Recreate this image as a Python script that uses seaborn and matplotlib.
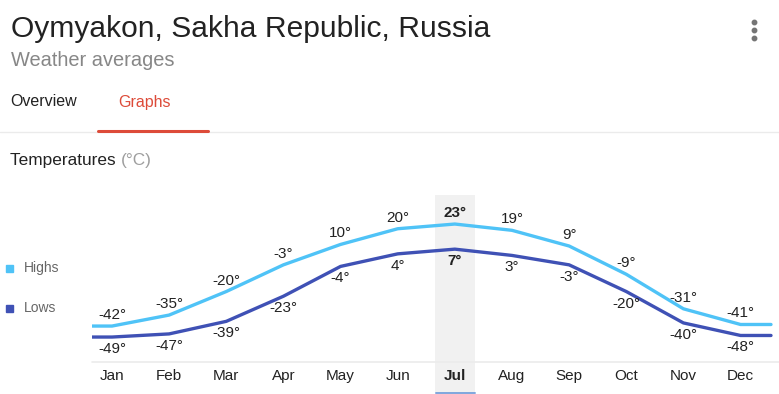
import matplotlib
matplotlib.use("Agg")
import matplotlib.pyplot as plt
import seaborn as sns
import pandas as pd
import numpy as np
from matplotlib.patches import Rectangle

months = ["Jan", "Feb", "Mar", "Apr", "May", "Jun", "Jul", "Aug", "Sep", "Oct", "Nov", "Dec"]
highs = [-42, -35, -20, -3, 10, 20, 23, 19, 9, -9, -31, -41]
lows = [-49, -47, -39, -23, -4, 4, 7, 3, -3, -20, -40, -48]
highlight = "Jul"

sns.set_theme(style="white")
plt.rcParams['font.family'] = ['Liberation Sans', 'DejaVu Sans']

W, H = 779, 394
fig = plt.figure(figsize=(W / 100, H / 100), dpi=100)
fig.patch.set_facecolor("white")

def fx(x):
    return x / W

def fy(y):
    return 1 - y / H

C_HIGH = "#4fc3f7"
C_LOW = "#3f51b5"
TXT = "#222222"

# Header texts
fig.text(fx(11), fy(29), "Oymyakon, Sakha Republic, Russia", fontsize=21.6, color=TXT, va="center", ha="left")
fig.text(fx(11), fy(61), "Weather averages", fontsize=14.4, color="#878787", va="center", ha="left")
fig.text(fx(10), fy(102), "Overview", fontsize=11.5, color=TXT, va="center", ha="left")
fig.text(fx(118), fy(102), "Graphs", fontsize=11.5, color="#dd4b39", va="center", ha="left")
fig.add_artist(plt.Line2D([0, 1], [fy(132), fy(132)], color="#ebebeb", lw=1, transform=fig.transFigure))
fig.add_artist(plt.Line2D([fx(98), fx(208)], [fy(130.5), fy(130.5)], color="#dd4b39", lw=2.2, transform=fig.transFigure))
for yy in (22, 30, 38):
    fig.add_artist(plt.Line2D([fx(754)], [fy(yy)], marker="o", markersize=3.2, color="#757575",
                              linestyle="none", transform=fig.transFigure))

t1 = fig.text(fx(10), fy(161), "Temperatures ", fontsize=12.4, color=TXT, va="center", ha="left")
fig.canvas.draw()
bb = t1.get_window_extent()
fig.text(bb.x1 / W, fy(161), "(°C)", fontsize=12.4, color="#9e9e9e", va="center", ha="left")

# Legend
for yy, col, lab in ((268, C_HIGH, "Highs"), (308, C_LOW, "Lows")):
    fig.add_artist(Rectangle((fx(6), fy(yy + 3.5)), 7 / W, 7 / H, color=col, transform=fig.transFigure))
    fig.text(fx(24), fy(yy), lab, fontsize=10, color="#666666", va="center", ha="left")

# Chart axes geometry
px_left, px_right, px_top, px_bottom = 92, 779, 195, 362
x0_px, step = 112, 57.14
ylo, yhi = -64.9, 41.5
ax = fig.add_axes([fx(px_left), fy(px_bottom), (px_right - px_left) / W, (px_bottom - px_top) / H])
xlim = ((px_left - x0_px) / step, (px_right - x0_px) / step)
ax.set_xlim(*xlim)
ax.set_ylim(ylo, yhi)
ax.set_facecolor("none")
for s in ax.spines.values():
    s.set_visible(False)
ax.set_xticks([])
ax.set_yticks([])

idx = list(range(len(months)))
line_end = (771 - x0_px) / step
xs_ext = [xlim[0]] + idx + [line_end]
df = pd.concat([
    pd.DataFrame({"x": xs_ext, "t": [highs[0]] + highs + [highs[-1]], "s": "Highs"}),
    pd.DataFrame({"x": xs_ext, "t": [lows[0]] + lows + [lows[-1]], "s": "Lows"}),
])

# Highlight column for Jul
hi = months.index(highlight)
ax.add_patch(Rectangle((hi - 20 / step, ylo - 40), 40 / step, yhi - (ylo - 40), color="#f1f1f1",
                       zorder=0, clip_on=False, lw=0))

sns.lineplot(data=df, x="x", y="t", hue="s", palette={"Highs": C_HIGH, "Lows": C_LOW},
             linewidth=2.4, legend=False, ax=ax, zorder=3, sort=False, estimator=None)

ax.axhline(ylo, color="#ebebeb", lw=1.2, zorder=1, clip_on=False)

for i, m in enumerate(months):
    bold = "bold" if m == highlight else "normal"
    ax.annotate(f"{highs[i]}°", (i, highs[i]), xytext=(0, 11), textcoords="offset pixels",
                ha="center", va="center", fontsize=11, color=TXT, fontweight=bold, zorder=4)
    ax.annotate(f"{lows[i]}°", (i, lows[i]), xytext=(0, -12), textcoords="offset pixels",
                ha="center", va="center", fontsize=11, color=TXT, fontweight=bold, zorder=4)
    ax.annotate(m, (i, ylo), xytext=(0, -14), textcoords="offset pixels",
                ha="center", va="center", fontsize=11, color=TXT, fontweight=bold,
                annotation_clip=False)

# blue underline for highlighted month
fig.add_artist(plt.Line2D([fx(436), fx(475)], [fy(392.5), fy(392.5)], color="#7fa6dd", lw=1.4,
                          transform=fig.transFigure))

fig.savefig("out.png", dpi=100, facecolor="white")
